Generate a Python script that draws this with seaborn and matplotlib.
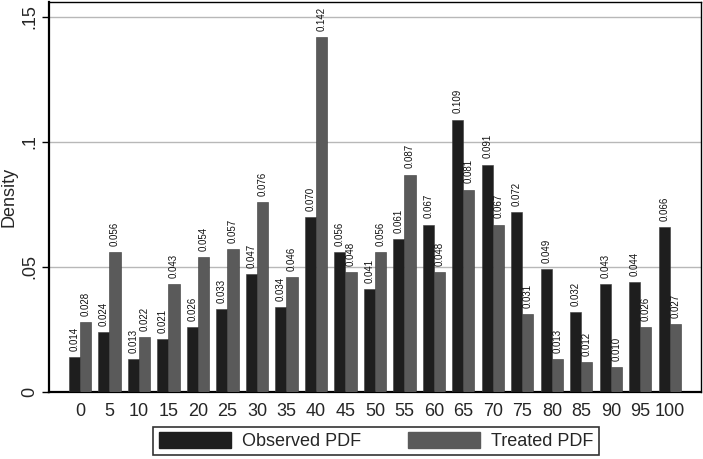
import matplotlib
matplotlib.use("Agg")
import matplotlib.pyplot as plt
import seaborn as sns
import pandas as pd
from matplotlib.patches import Patch

categories = ["0", "5", "10", "15", "20", "25", "30", "35", "40", "45", "50",
              "55", "60", "65", "70", "75", "80", "85", "90", "95", "100"]
observed = [0.014, 0.024, 0.013, 0.021, 0.026, 0.033, 0.047, 0.034, 0.070, 0.056, 0.041,
            0.061, 0.067, 0.109, 0.091, 0.072, 0.049, 0.032, 0.043, 0.044, 0.066]
treated = [0.028, 0.056, 0.022, 0.043, 0.054, 0.057, 0.076, 0.046, 0.142, 0.048, 0.056,
           0.087, 0.048, 0.081, 0.067, 0.031, 0.013, 0.012, 0.010, 0.026, 0.027]
series_names = ["Observed PDF", "Treated PDF"]
ytick_vals = [0, 0.05, 0.1, 0.15]
ytick_labels = ["0", ".05", ".1", ".15"]

df = pd.DataFrame({
    "cat": categories * 2,
    "val": observed + treated,
    "series": [series_names[0]] * len(categories) + [series_names[1]] * len(categories),
})

sns.set_style("white")
plt.rcParams["font.family"] = ["Liberation Sans", "DejaVu Sans"]

colors = {"Observed PDF": "#1e1e1e", "Treated PDF": "#5a5a5a"}

fig = plt.figure(figsize=(7.03, 4.59), dpi=100)
ax = fig.add_axes([0.0697, 0.146, 0.9273, 0.8496])

sns.barplot(data=df, x="cat", y="val", hue="series", order=categories,
            hue_order=series_names, palette=colors, width=0.75, saturation=1,
            edgecolor="#3a3a3a", linewidth=0.4, ax=ax, legend=False, zorder=3)

for cont in ax.containers:
    ax.bar_label(cont, fmt="%.3f", rotation=90, padding=4.5, fontsize=7, color="#111111")

ax.set_xlim(-1.05, len(categories) - 1 + 1.05)
ax.set_ylim(0, 0.156)
ax.set_yticks(ytick_vals)
ax.set_yticklabels(ytick_labels, rotation=90, va="center", fontsize=13)
ax.tick_params(axis="x", labelsize=13, length=0, pad=8)
ax.tick_params(axis="y", length=5, width=1, left=True, color="black", pad=3)
for v in ytick_vals[1:]:
    ax.axhline(v, color="#b8b8b8", linewidth=1.0, zorder=1)
ax.set_xlabel("")
ax.set_ylabel("Density", fontsize=13, va="center")
ax.yaxis.set_label_coords(-0.062, 0.5)

for side in ["top", "right"]:
    ax.spines[side].set_linewidth(1.0)
    ax.spines[side].set_color("black")
ax.spines["left"].set_linewidth(1.6)
ax.spines["left"].set_color("black")
ax.spines["bottom"].set_linewidth(1.6)
ax.spines["bottom"].set_color("black")

handles = [Patch(facecolor=colors[s], edgecolor=colors[s]) for s in series_names]
leg = fig.legend(handles, series_names, loc="center", bbox_to_anchor=(0.535, 0.0392),
                 ncol=2, fontsize=13, frameon=True, fancybox=False,
                 edgecolor="black", handlelength=4.0, handleheight=0.95,
                 columnspacing=2.6, borderpad=0.3, handletextpad=0.6,
                 borderaxespad=0)
leg.get_frame().set_linewidth(1.2)

fig.savefig("out.png", dpi=100)
